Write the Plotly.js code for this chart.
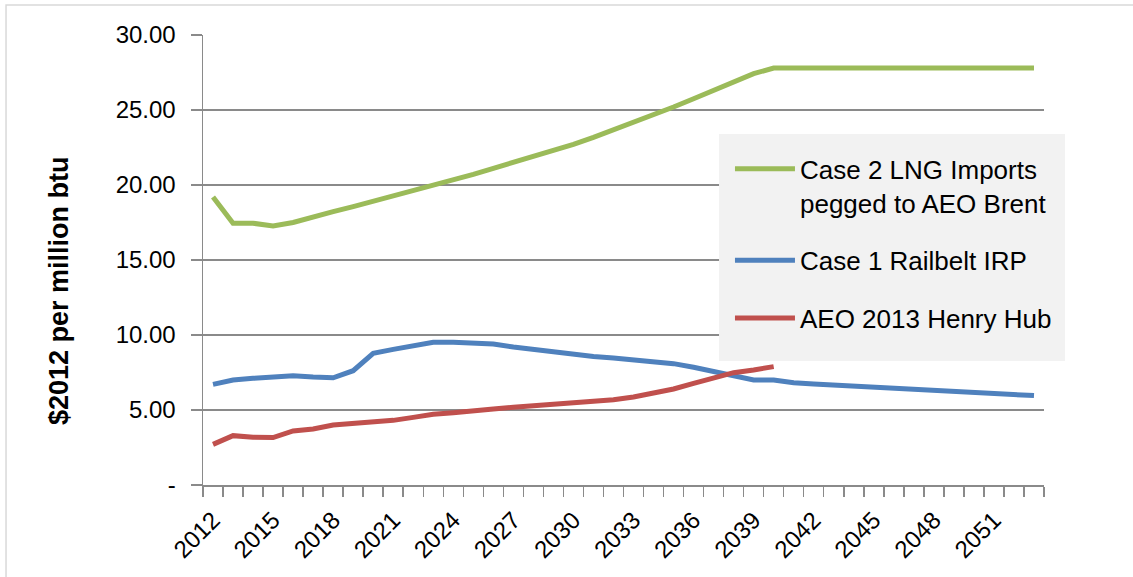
<!DOCTYPE html>
<html><head><meta charset="utf-8">
<script src="https://cdn.plot.ly/plotly-3.0.1.min.js"></script>
<style>html,body{margin:0;padding:0;background:#fff}#chart{width:1133px;height:577px}</style>
</head><body><div id="chart"></div>
<script>
const years = [2012,2013,2014,2015,2016,2017,2018,2019,2020,2021,2022,2023,2024,2025,2026,2027,2028,2029,2030,2031,2032,2033,2034,2035,2036,2037,2038,2039,2040,2041,2042,2043,2044,2045,2046,2047,2048,2049,2050,2051,2052,2053];
const case2LNG = [19.2,17.45,17.45,17.27,17.5,17.89,18.22,18.56,18.91,19.24,19.6,19.96,20.33,20.71,21.11,21.5,21.86,22.27,22.71,23.18,23.67,24.16,24.67,25.2,25.75,26.3,26.87,27.42,27.8,27.8,27.8,27.8,27.8,27.8,27.8,27.8,27.8,27.8,27.8,27.8,27.8,27.8];
const case1Railbelt = [6.71,7.0,7.11,7.18,7.29,7.2,7.15,7.62,8.78,9.04,9.29,9.51,9.52,9.47,9.4,9.2,9.05,8.85,8.68,8.56,8.47,8.33,8.2,8.09,7.85,7.58,7.3,7.0,7.0,6.82,6.74,6.67,6.62,6.56,6.49,6.4,6.33,6.24,6.18,6.09,6.04,5.96];
const henryHub = [2.71,3.29,3.18,3.16,3.6,3.73,4.0,4.11,4.18,4.31,4.51,4.71,4.82,4.91,5.07,5.18,5.27,5.36,5.47,5.6,5.69,5.87,6.11,6.4,6.78,7.16,7.49,7.67,7.89];
const seriesNames = ['Case 2 LNG Imports<br>pegged to AEO Brent','Case 1 Railbelt IRP','AEO 2013 Henry Hub'];
const xTickVals = [2012,2015,2018,2021,2024,2027,2030,2033,2036,2039,2042,2045,2048,2051];
const xTickText = ['2012','2015','2018','2021','2024','2027','2030','2033','2036','2039','2042','2045','2048','2051'];
const yTickVals = [0,5,10,15,20,25,30];
const yTickText = ['-','5.00','10.00','15.00','20.00','25.00','30.00'];
const yTitle = '$2012 per million btu';

const FONT = '"Liberation Sans", Arial, sans-serif';
const GRID = '#8a8a8a';
const traces = [
  {x: years, y: case2LNG, name: seriesNames[0], legendgroup: 'g1', mode: 'lines', line: {color: '#9bbb59', width: 5}},
  {x: years, y: case1Railbelt, name: seriesNames[1], legendgroup: 'g2', mode: 'lines', line: {color: '#4f81bd', width: 5}},
  {x: years.slice(0, henryHub.length), y: henryHub, name: seriesNames[2], legendgroup: 'g3', mode: 'lines', line: {color: '#c0504d', width: 5}}
];
const layout = {
  width: 1133, height: 577,
  margin: {l: 203, r: 89, t: 35, b: 92},
  paper_bgcolor: '#fff', plot_bgcolor: '#fff',
  font: {family: FONT, size: 24, color: '#000'},
  showlegend: true,
  legend: {x: 0.6266, y: 0.755, xanchor: 'left', yanchor: 'top', bgcolor: 'rgba(0,0,0,0)',
    font: {family: FONT, size: 26, color: '#000'}, tracegroupgap: 21, valign: 'top', itemwidth: 60},
  xaxis: {
    type: 'linear', range: [2011.5, 2053.5], fixedrange: true,
    tickmode: 'array', tickvals: xTickVals, ticktext: xTickText, tickangle: -45,
    ticks: 'outside', ticklen: 10, tickcolor: 'rgba(0,0,0,0)',
    tickfont: {family: FONT, size: 24, color: '#000'},
    minor: {tick0: 2011.5, dtick: 1, ticks: 'outside', ticklen: 10, tickwidth: 1.5, tickcolor: GRID, showgrid: false},
    showgrid: false, zeroline: false, showline: true, linecolor: GRID, linewidth: 1.5
  },
  yaxis: {
    range: [0, 30], fixedrange: true,
    tickmode: 'array', tickvals: yTickVals, ticktext: yTickText,
    ticks: 'outside', ticklen: 11, tickwidth: 1.5, tickcolor: GRID, ticklabelstandoff: 10,
    tickfont: {family: FONT, size: 24, color: '#000'},
    showgrid: true, gridcolor: GRID, gridwidth: 1.5, zeroline: false,
    showline: true, linecolor: GRID, linewidth: 1.5
  },
  annotations: [
    {text: yTitle, xref: 'paper', yref: 'paper', x: -0.1712, y: 0.431, xanchor: 'center', yanchor: 'middle',
      textangle: -90, showarrow: false, font: {family: FONT, size: 27, color: '#000', weight: 'bold'}}
  ],
  shapes: [
    {type: 'rect', xref: 'paper', yref: 'paper', x0: -0.2342, x1: 1.2, y0: -0.3, y1: 1.0667,
      line: {color: '#d9d9d9', width: 1.5}, fillcolor: 'rgba(0,0,0,0)', layer: 'below'},
    {type: 'rect', xref: 'paper', yref: 'paper', x0: 0.6136, x1: 1.025, y0: 0.2756, y1: 0.78,
      line: {width: 0}, fillcolor: '#f2f2f2', layer: 'above'}
  ]
};
Plotly.newPlot('chart', traces, layout, {staticPlot: true, displayModeBar: false});
</script></body></html>
